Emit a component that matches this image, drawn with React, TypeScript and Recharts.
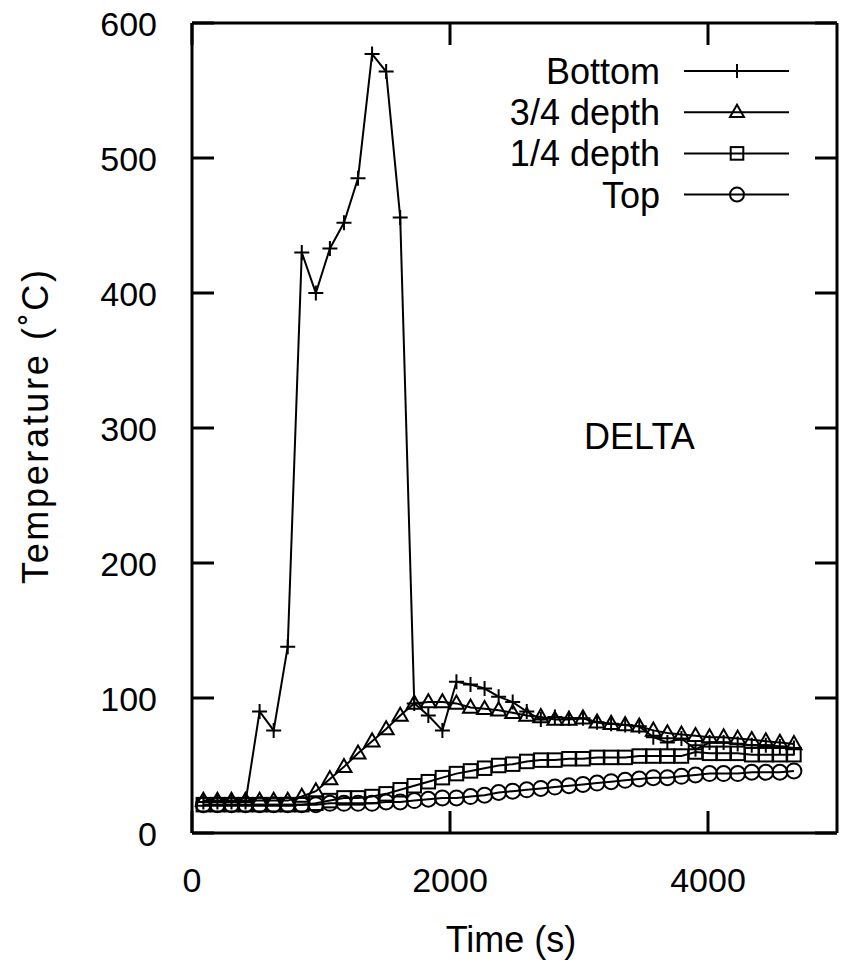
import React from 'react';
import { LineChart, Line, XAxis, YAxis, Legend, ReferenceDot } from 'recharts';

const times = [88, 197, 306, 415, 524, 633, 742, 851, 960, 1069, 1178, 1287, 1396, 1505, 1614, 1723, 1832, 1941, 2050, 2159, 2268, 2377, 2486, 2595, 2704, 2813, 2922, 3031, 3140, 3249, 3358, 3467, 3576, 3685, 3794, 3903, 4012, 4121, 4230, 4339, 4448, 4557, 4666];
const bottom = [23, 23, 23, 23, 90, 76, 138, 430, 400, 433, 452, 485, 577, 564, 456, 96, 87, 76, 112, 110, 107, 101, 97, 90, 84, 86, 85, 85, 82, 81, 80, 79, 71, 67, 70, 62, 67, 67, 66, 65, 65, 64, 63];
const depth34 = [24, 24, 24, 24, 24, 24, 24, 27, 31, 40, 49, 59, 68, 77, 87, 96, 97, 97, 96, 93, 92, 91, 89, 87, 86, 84, 84, 85, 82, 81, 80, 79, 76, 74, 73, 72, 71, 71, 70, 69, 68, 67, 66];
const depth14 = [21, 21, 21, 21, 21, 21, 21, 21, 22, 24, 26, 26, 27, 29, 32, 35, 38, 41, 44, 46, 48, 50, 51, 53, 54, 54, 55, 55, 56, 56, 56, 57, 57, 57, 57, 60, 59, 59, 59, 58, 58, 58, 58];
const top = [21, 21, 21, 21, 21, 21, 21, 21, 21, 22, 22, 22, 22, 23, 23, 24, 25, 26, 26, 27, 28, 30, 31, 32, 33, 34, 35, 36, 37, 38, 39, 40, 41, 41, 42, 43, 44, 44, 44, 45, 45, 45, 46];

const xTicks = [0, 2000, 4000];
const yTicks = [0, 100, 200, 300, 400, 500, 600];

const seriesNames = ['Bottom', '3/4 depth', '1/4 depth', 'Top'];
const seriesKeys = ['bottom', 'd34', 'd14', 'top'];
const seriesShapes = ['plus', 'triangle', 'square', 'circle'];

const data = times.map((t, i) => ({ t, bottom: bottom[i], d34: depth34[i], d14: depth14[i], top: top[i] }));

const FONT = '"Liberation Sans", Arial, Helvetica, sans-serif';
const TICK_LEN = 22;
const AXIS_W = 3;
const PLOT = { left: 192, right: 837, top: 23, bottom: 833 };

function Marker({ shape, cx, cy, s }: { shape: string; cx: number; cy: number; s: number }) {
  const st = { fill: 'none', stroke: '#000', strokeWidth: 2 };
  if (shape === 'plus') return <path d={`M${cx - s},${cy}H${cx + s}M${cx},${cy - s}V${cy + s}`} {...st} />;
  if (shape === 'triangle') return <path d={`M${cx},${cy - s * 1.05}L${cx + s},${cy + s * 0.7}L${cx - s},${cy + s * 0.7}Z`} {...st} />;
  if (shape === 'square') return <rect x={cx - s * 0.9} y={cy - s * 0.9} width={s * 1.8} height={s * 1.8} {...st} />;
  return <circle cx={cx} cy={cy} r={s} {...st} />;
}

const makeDot = (shape: string, id: string) => (p: any) => {
  const { cx, cy, index } = p;
  if (cx == null || cy == null) return <g key={`${id}-${index}`} />;
  return <Marker key={`${id}-${index}`} shape={shape} cx={cx} cy={cy} s={7.5} />;
};

const BottomTick = (p: any) => (
  <g>
    <line x1={p.x} x2={p.x} y1={PLOT.bottom} y2={PLOT.bottom - TICK_LEN} stroke="#000" strokeWidth={AXIS_W} />
    <text x={p.x} y={PLOT.bottom + 59} textAnchor="middle" fontSize={34} fontFamily={FONT} fill="#000">{p.payload.value}</text>
  </g>
);
const TopTick = (p: any) => (
  <line x1={p.x} x2={p.x} y1={PLOT.top} y2={PLOT.top + TICK_LEN} stroke="#000" strokeWidth={AXIS_W} />
);
const LeftTick = (p: any) => (
  <g>
    <line x1={PLOT.left} x2={PLOT.left + TICK_LEN} y1={p.y} y2={p.y} stroke="#000" strokeWidth={AXIS_W} />
    <text x={PLOT.left - 35} y={p.y + 13} textAnchor="end" fontSize={34} fontFamily={FONT} fill="#000">{p.payload.value}</text>
  </g>
);
const RightTick = (p: any) => (
  <line x1={PLOT.right} x2={PLOT.right - TICK_LEN} y1={p.y} y2={p.y} stroke="#000" strokeWidth={AXIS_W} />
);

const LegendBox = () => (
  <svg width={841} height={961} style={{ position: 'absolute', left: 0, top: 0, pointerEvents: 'none' }}>
    {seriesNames.map((name, i) => {
      const y = 71 + i * 41.2;
      return (
        <g key={name}>
          <text x={660} y={y + 13} textAnchor="end" fontSize={36} fontFamily={FONT} fill="#000">{name}</text>
          <line x1={684} x2={789} y1={y} y2={y} stroke="#000" strokeWidth={2} />
          <Marker shape={seriesShapes[i]} cx={737} cy={y} s={7} />
        </g>
      );
    })}
  </svg>
);

export default function App() {
  return (
    <div style={{ position: 'absolute', left: 0, top: 0, width: 841, height: 961, background: '#fff' }}>
      <LineChart width={841} height={961} data={data} margin={{ top: 22, right: 3, bottom: 68, left: 92 }} style={{ fontFamily: FONT }}>
        <XAxis
          xAxisId="b"
          dataKey="t"
          type="number"
          domain={[0, 5000]}
          ticks={xTicks}
          allowDataOverflow
          height={60}
          tickSize={0}
          tickMargin={0}
          axisLine={{ stroke: '#000', strokeWidth: AXIS_W }}
          tickLine={false}
          tick={BottomTick}
          label={{
            content: () => (
              <text x={511} y={952} textAnchor="middle" fontSize={36} fontFamily={FONT} fill="#000">Time (s)</text>
            ),
          }}
        />
        <XAxis
          xAxisId="t"
          orientation="top"
          dataKey="t"
          type="number"
          domain={[0, 5000]}
          ticks={xTicks}
          allowDataOverflow
          height={1}
          tickSize={0}
          tickMargin={0}
          axisLine={{ stroke: '#000', strokeWidth: AXIS_W }}
          tickLine={false}
          tick={TopTick}
        />
        <YAxis
          yAxisId="l"
          type="number"
          domain={[0, 600]}
          ticks={yTicks}
          allowDataOverflow
          width={100}
          tickSize={0}
          tickMargin={0}
          axisLine={{ stroke: '#000', strokeWidth: AXIS_W }}
          tickLine={false}
          tick={LeftTick}
          label={{
            content: () => (
              <text x={48} y={427} transform="rotate(-90, 48, 427)" textAnchor="middle" fontSize={36} fontFamily={FONT} fill="#000" textLength={314} lengthAdjust="spacing">Temperature (˚C)</text>
            ),
          }}
        />
        <YAxis
          yAxisId="r"
          orientation="right"
          type="number"
          domain={[0, 600]}
          ticks={yTicks}
          allowDataOverflow
          width={1}
          tickSize={0}
          tickMargin={0}
          axisLine={{ stroke: '#000', strokeWidth: AXIS_W }}
          tickLine={false}
          tick={RightTick}
        />
        <ReferenceDot
          xAxisId="b"
          yAxisId="l"
          x={3468}
          y={294}
          r={0}
          fill="none"
          stroke="none"
          ifOverflow="visible"
          label={{ value: 'DELTA', position: 'center', fontSize: 36, fill: '#000', fontFamily: FONT }}
        />
        {seriesKeys.map((k, i) => (
          <Line
            key={k}
            xAxisId="b"
            yAxisId="l"
            type="linear"
            dataKey={k}
            name={seriesNames[i]}
            stroke="#000"
            strokeWidth={2}
            dot={makeDot(seriesShapes[i], k)}
            activeDot={false}
            isAnimationActive={false}
          />
        ))}
        <Legend
          layout="horizontal"
          verticalAlign="middle"
          align="center"
          wrapperStyle={{ position: 'absolute', left: 0, top: 0, width: 841, height: 961, pointerEvents: 'none' }}
          content={() => <LegendBox />}
        />
      </LineChart>
    </div>
  );
}
